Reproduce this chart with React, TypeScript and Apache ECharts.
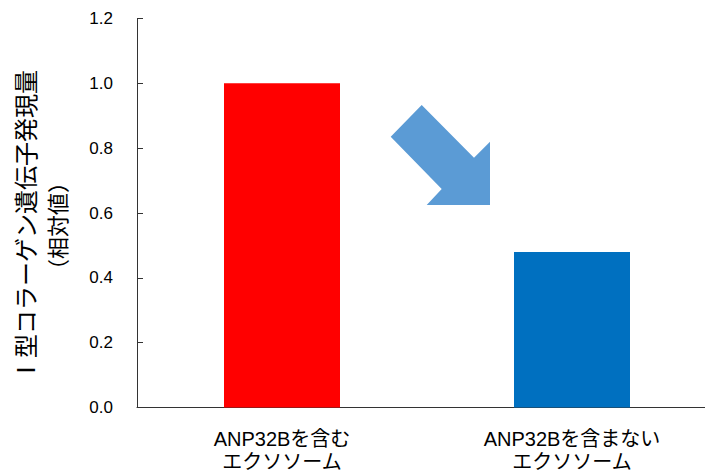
import React, { useEffect, useRef } from "react";
import * as echarts from "echarts";

const categories = ["ANP32Bを含む\nエクソソーム", "ANP32Bを含まない\nエクソソーム"];
const values = [1.0, 0.48];
const barColors = ["#FF0000", "#0070C0"];
const yTitleLines = ["Ⅰ型コラーゲン遺伝子発現量", "（相対値）"];

const FONT = "'Liberation Sans', 'Noto Sans CJK JP', sans-serif";
const CJK = "'Noto Sans CJK JP', sans-serif";

export default function App() {
  const ref = useRef<HTMLDivElement>(null);
  useEffect(() => {
    const chart = echarts.init(ref.current!, null, { renderer: "svg" });
    chart.setOption({
      animation: false,
      backgroundColor: "#fff",
      grid: {
        left: 137,
        top: 18.5,
        width: 580,
        height: 389,
        containLabel: false,
        outerBoundsMode: "none",
      },
      xAxis: {
        type: "category",
        data: categories,
        axisLine: { lineStyle: { color: "#333", width: 1 } },
        axisTick: { show: false },
        axisLabel: {
          color: "#000",
          fontSize: 20,
          fontFamily: FONT,
          lineHeight: 23,
          margin: 20,
          interval: 0,
        },
      },
      yAxis: {
        type: "value",
        min: 0,
        max: 1.2,
        interval: 0.2,
        splitLine: { show: false },
        axisLine: { show: true, lineStyle: { color: "#333", width: 1 } },
        axisTick: { show: true, inside: true, length: 6, lineStyle: { color: "#333" } },
        axisLabel: {
          color: "#000",
          fontSize: 17,
          fontFamily: FONT,
          margin: 24,
          formatter: (v: number) => v.toFixed(1),
        },
      },
      series: [
        {
          type: "bar",
          barWidth: 116,
          data: values.map((v, i) => ({ value: v, itemStyle: { color: barColors[i] } })),
        },
      ],
      graphic: [
        {
          type: "text",
          x: 24,
          y: 226,
          rotation: Math.PI / 2,
          style: {
            text: yTitleLines[0],
            fill: "#000",
            font: `24px ${CJK}`,
            textAlign: "center",
            textVerticalAlign: "middle",
          },
        },
        {
          type: "text",
          x: 56,
          y: 226,
          rotation: Math.PI / 2,
          style: {
            text: yTitleLines[1],
            fill: "#000",
            font: `22px ${CJK}`,
            textAlign: "center",
            textVerticalAlign: "middle",
          },
        },
        {
          type: "polygon",
          shape: {
            points: [
              [421.7, 105],
              [474, 157.7],
              [490, 141.7],
              [490, 205],
              [426.7, 205],
              [441.7, 189],
              [390.7, 136.7],
            ],
          },
          style: { fill: "#5B9BD5" },
        },
      ],
    });
    return () => chart.dispose();
  }, []);
  return (
    <div
      ref={ref}
      style={{ position: "fixed", left: 0, top: 0, width: 705, height: 473 }}
    />
  );
}
